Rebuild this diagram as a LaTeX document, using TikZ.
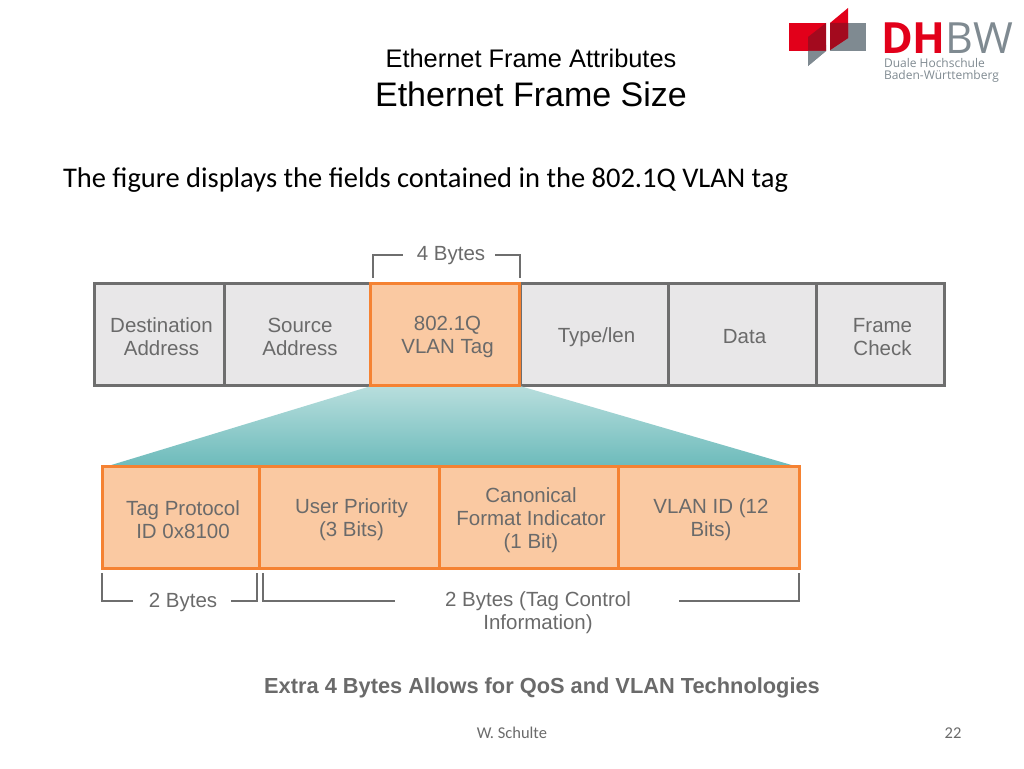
\documentclass[tikz,border=0pt]{standalone}
\usepackage{fontspec}
\setmainfont{Liberation Sans}
\newfontfamily\bodyfont{Carlito}
\newfontfamily\logofont{Open Sans}
\usetikzlibrary{positioning}
\definecolor{fieldgray}{HTML}{E8E7E8}
\definecolor{fieldedge}{HTML}{6E6E6E}
\definecolor{tagfill}{HTML}{FAC9A2}
\definecolor{tagedge}{HTML}{F58232}
\definecolor{figtext}{HTML}{6A6A6A}
\definecolor{fantop}{HTML}{B8DEDD}
\definecolor{fanbottom}{HTML}{6DBBBB}
\definecolor{dhbwred}{HTML}{E2001A}
\definecolor{dhbwdark}{HTML}{A30A1E}
\definecolor{dhbwgray}{HTML}{7F8A91}
\tikzstyle{every node}=[inner sep=0, outer sep=0]
\tikzstyle{figlabel}=[align=center, text=figtext, font=\fontsize{20.5}{23}\selectfont]
\tikzstyle{framefield}=[draw=fieldedge, fill=fieldgray, line width=3pt, minimum height=102pt]
\tikzstyle{tagfield}=[draw=tagedge, fill=tagfill, line width=3pt, minimum height=102pt]
\tikzstyle{bracket}=[draw=fieldedge, line width=1.3pt]
\newcommand{\framenode}[4]{
\node[framefield, minimum width=#3pt] (#1) at (#2) {};
\node[figlabel] (#1text) at ([xshift=2.5pt,yshift=-3pt]#1.center) {#4};
}
\newcommand{\tagnode}[4]{
\node[tagfield, minimum width=#3pt] (#1) at (#2) {};
\node[figlabel] (#1text) at ([xshift=2.5pt,yshift=-3pt]#1.center) {#4};
}

\begin{document}
\begin{tikzpicture}[x=1pt,y=-1pt]
\useasboundingbox (0,0) rectangle (1024,768);

\node[font=\fontsize{25.4}{30}\selectfont] (attrs) at (531,58) {Ethernet Frame Attributes};
\node[font=\fontsize{34}{40}\selectfont] (size) at (531,94) {Ethernet Frame Size};
\node[font=\bodyfont\fontsize{28.5}{34}\selectfont, anchor=west] (intro) at (63,180) {The figure displays the fields contained in the 802.1Q VLAN tag};

\fill[dhbwgray] (830,23) rectangle (866,51);
\fill[dhbwgray] (808,59) -- (826,45) -- (826,51) -- (808,66) -- cycle;
\fill[dhbwred] (789,23) rectangle (826,51);
\fill[dhbwred] (830,23) -- (848,8) -- (848,38) -- (830,50) -- cycle;
\fill[dhbwdark] (808,37) -- (826,23) -- (826,51) -- (808,51) -- cycle;
\fill[dhbwdark] (830,23) -- (848,23) -- (848,38) -- (830,50) -- cycle;
\fill[dhbwgray] (808,51) -- (826,51) -- (808,66) -- cycle;
\node[anchor=base west, text depth=0pt, font=\logofont\fontsize{43}{43}\selectfont] (logo) at (881,53) {\textcolor{dhbwred}{\textbf{DH}}\textcolor{dhbwgray}{BW}};
\node[anchor=base west, text=dhbwgray, font=\logofont\fontsize{12}{12}\selectfont] (logoa) at (884,67) {Duale Hochschule};
\node[anchor=base west, text=dhbwgray, font=\logofont\fontsize{12}{12}\selectfont] (logob) at (884,79) {Baden-Württemberg};

\framenode{dest}{159,334}{130}{Destination\\Address}
\framenode{src}{297.5,334}{147}{Source\\Address}
\framenode{type}{594,334}{148}{Type/len}
\framenode{data}{742,334}{148}{Data}
\framenode{check}{880,334}{128}{Frame\\Check}

\coordinate (fanl) at (108,466);
\coordinate (fanr) at (795,466);
\coordinate (tagl) at (371,386);
\coordinate (tagr) at (520,386);
\shade[top color=fantop, bottom color=fanbottom] (tagl) -- (tagr) -- (fanr) -- (fanl) -- cycle;

\tagnode{tag}{445,334}{149}{802.1Q\\VLAN Tag}
\tagnode{tpid}{180.5,517}{157}{Tag Protocol\\ID 0x8100}
\tagnode{prio}{349,517}{180}{User Priority\\(3 Bits)}
\tagnode{cfi}{528.5,517}{179}{Canonical\\Format Indicator\\(1 Bit)}
\tagnode{vid}{708.5,517}{181}{VLAN ID (12\\Bits)}

\node[figlabel] (four) at (451,256) {4 Bytes};
\node[figlabel] (twoa) at (183,602) {2 Bytes};
\node[figlabel] (twob) at (538,613) {2 Bytes (Tag Control\\Information)};
\node[font=\bfseries\fontsize{21.8}{26}\selectfont, text=figtext] (extra) at (542,688) {Extra 4 Bytes Allows for QoS and VLAN Technologies};

\coordinate (foura) at (373,278);
\coordinate (fourb) at (520,278);
\draw[bracket] (foura) |- ([xshift=-14pt,yshift=1pt]four.west);
\draw[bracket] (fourb) |- ([xshift=10pt,yshift=1pt]four.east);
\coordinate (twoaa) at (102,573);
\coordinate (twoab) at (257,573);
\coordinate (twoba) at (263,573);
\coordinate (twobb) at (799,573);
\draw[bracket] (twoaa) |- ([xshift=-16pt,yshift=1pt]twoa.west);
\draw[bracket] (twoab) |- ([xshift=14pt,yshift=1pt]twoa.east);
\draw[bracket] (twoba) |- ([xshift=-50pt,yshift=12pt]twob.west);
\draw[bracket] (twobb) |- ([xshift=48pt,yshift=12pt]twob.east);

\node[font=\bodyfont\fontsize{16.5}{20}\selectfont, text=figtext] (author) at (512,733) {W. Schulte};
\node[font=\bodyfont\fontsize{16.5}{20}\selectfont, text=figtext] (page) at (953,733) {22};
\end{tikzpicture}
\end{document}
